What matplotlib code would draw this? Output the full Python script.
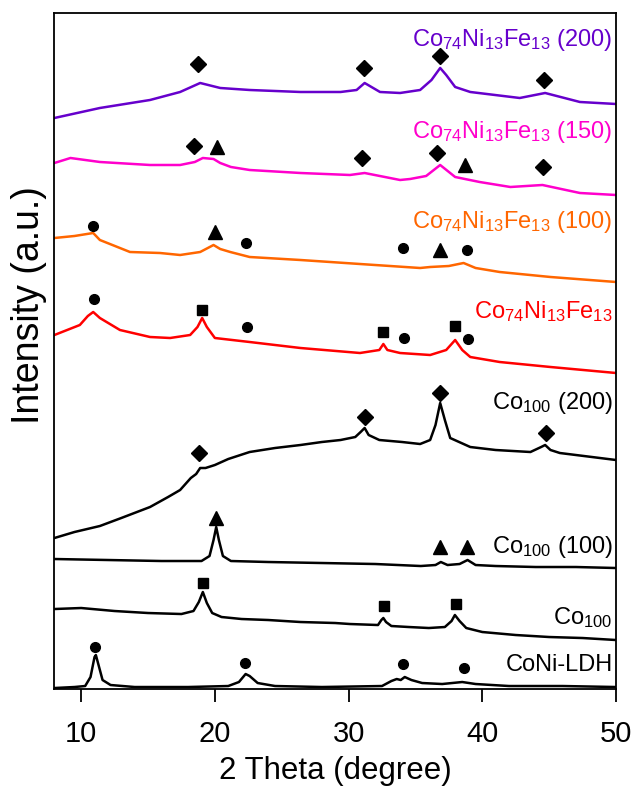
import matplotlib
matplotlib.use('Agg')
import matplotlib.pyplot as plt

plt.rcParams['font.family'] = ['Liberation Sans', 'DejaVu Sans']
plt.rcParams['mathtext.fontset'] = 'custom'
plt.rcParams['mathtext.rm'] = 'Liberation Sans'
plt.rcParams['mathtext.it'] = 'Liberation Sans'
plt.rcParams['mathtext.default'] = 'regular'

# CoNi-LDH
ldh_x = [8, 9.5, 10.3, 10.7, 11.0, 11.1, 11.3, 11.6, 12.2, 14, 18, 21, 21.8, 22.3, 22.6, 23.2, 24.5,
         28, 32.5, 33.2, 33.6, 33.9, 34.2, 34.7, 35.5, 37, 38.5, 39.5, 42, 46, 50]
ldh_y = [1, 2, 3, 12, 32, 34, 24, 9, 4, 2, 2, 3, 7, 15, 13, 6, 3,
         2, 3, 8, 10, 9, 12, 9, 6, 5, 7, 5, 3, 3, 2]

# Co100
co_x = [8, 10, 12.5, 15, 17.5, 18.4, 18.8, 19.1, 19.4, 19.8, 20.5, 22, 24, 26.4, 29, 30.1, 32.2, 32.45,
        32.6, 32.8, 33.2, 34.5, 36, 37.2, 37.7, 37.95, 38.3, 38.8, 40, 42.5, 45, 47.5, 50]
co_y = [80, 81, 78, 76, 75, 78, 87, 97, 86, 76, 72, 70, 69, 67, 66, 65, 64, 69,
        71, 67, 63, 62, 61, 62, 68, 74, 68, 61, 57, 54, 52, 51, 49]

# Co100 (100)
co100_x = [8, 12, 16, 19, 19.6, 19.9, 20.1, 20.3, 20.6, 21.2, 24, 28, 32, 35.4, 36.5, 36.9, 37.4,
           38.3, 38.9, 39.5, 41, 44, 47, 50]
co100_y = [130, 129, 128, 128, 133, 149, 162, 149, 133, 128, 127, 126, 125, 123, 124, 127, 124,
           125, 129, 124, 123, 122, 122, 121]

# Co100 (200)
co200_x = [8, 9.5, 11.4, 13, 15.15, 16.5, 17.4, 18.2, 18.6, 18.9, 19.3, 20, 21, 22.6, 24.5, 26.4, 28,
           29.4, 30.5, 30.9, 31.2, 31.5, 32.3, 34, 35.35, 36.1, 36.5, 36.85, 37.2, 37.6, 39.1, 41,
           43.6, 44.4, 44.7, 45.1, 45.8, 48.8, 50]
co200_y = [151, 157, 163, 171, 182, 192, 199, 211, 215, 221, 221, 224, 230, 237, 241, 244, 247,
           249, 252, 257, 261, 254, 249, 247, 245, 249, 264, 286, 269, 251, 242, 239,
           237, 242, 244, 239, 236, 231, 229]

# Co74Ni13Fe13
cnf_x = [8, 9.9, 10.5, 10.9, 11.4, 12.9, 15.15, 16.65, 18.15, 18.7, 19.05, 19.4, 20.0, 22.6, 26.4,
         30.85, 32.3, 32.6, 32.9, 33.85, 36.1, 37.3, 37.97, 38.5, 39.1, 41.3, 45.1, 50]
cnf_y = [354, 364, 373, 377, 371, 359, 352, 351, 354, 362, 371, 362, 351, 347, 341,
         336, 339, 345, 339, 336, 334, 339, 349, 339, 332, 327, 322, 316]

# Co74Ni13Fe13 (100)
cnf100_x = [8, 9.5, 10.9, 11.4, 13.65, 15.9, 17.4, 18.9, 19.9, 20.4, 21.15, 22.6, 26.4, 30.85, 35.35,
            36.1, 37.5, 38.6, 39.5, 41.3, 45.1, 50]
cnf100_y = [451, 453, 456, 449, 437, 436, 434, 437, 444, 440, 437, 432, 429, 425, 421,
            422, 423, 426, 421, 417, 412, 407]

# Co74Ni13Fe13 (150)
cnf150_x = [8, 9.2, 11.4, 15.15, 17.4, 18.5, 19.1, 19.9, 20.4, 21.2, 22.6, 26.4, 30.1, 31.2, 33.85,
            34.6, 35.8, 36.85, 37.97, 39.8, 42.1, 44.5, 47.3, 50]
cnf150_y = [526, 531, 527, 524, 524, 527, 531, 530, 526, 522, 519, 516, 514, 516, 509,
            510, 513, 524, 512, 507, 502, 504, 496, 494]

# Co74Ni13Fe13 (200)
cnf200_x = [8, 11.4, 15.15, 17.4, 18.9, 20.4, 22.6, 26.4, 29.4, 30.6, 31.2, 32.35, 33.85, 35.35, 36.2,
            36.85, 37.3, 37.97, 39.1, 42.8, 44.7, 47.3, 50]
cnf200_y = [571, 581, 589, 597, 606, 601, 599, 597, 597, 599, 606, 597, 596, 599, 609,
            621, 614, 602, 597, 591, 596, 587, 585]

# marcadores de fase
diamante_x = [18.75, 31.15, 36.8, 44.65, 18.45, 31.0, 36.6, 44.55, 18.8, 31.2, 36.85, 44.75]
diamante_y = [625, 621, 633, 609, 543, 531, 536, 522, 236, 272, 296, 256]
triangulo_x = [20.15, 38.7, 20.0, 36.85, 20.1, 36.85, 38.85]
triangulo_y = [542, 524, 457, 439, 171, 142, 142]
circulo_x = [10.9, 22.3, 34.05, 38.85, 10.95, 22.4, 34.15, 38.9, 11.05, 22.25, 34.05, 38.6]
circulo_y = [463, 446, 441, 439, 390, 362, 351, 350, 42, 26, 25, 21]
quadrado_x = [19.05, 32.6, 37.95, 19.1, 32.65, 38.0]
quadrado_y = [379, 357, 363, 106, 83, 85]

curvas = [
    (ldh_x, ldh_y, 'black', 'CoNi-LDH', 24),
    (co_x, co_y, 'black', 'Co$_{100}$', 71),
    (co100_x, co100_y, 'black', 'Co$_{100}$ (100)', 142),
    (co200_x, co200_y, 'black', 'Co$_{100}$ (200)', 286),
    (cnf_x, cnf_y, '#ff0000', 'Co$_{74}$Ni$_{13}$Fe$_{13}$', 377),
    (cnf100_x, cnf100_y, '#ff6600', 'Co$_{74}$Ni$_{13}$Fe$_{13}$ (100)', 467),
    (cnf150_x, cnf150_y, '#ff00cc', 'Co$_{74}$Ni$_{13}$Fe$_{13}$ (150)', 557),
    (cnf200_x, cnf200_y, '#6600cc', 'Co$_{74}$Ni$_{13}$Fe$_{13}$ (200)', 649),
]

fig = plt.figure(figsize=(6.35, 7.87), dpi=100)
ax = fig.add_axes([0.0857, 0.1245, 0.8844, 0.859])

for x, y, cor, nome, y_texto in curvas:
    ax.plot(x, y, color=cor, linewidth=1.8)
    ax.text(49.75, y_texto, nome, color=cor, fontsize=17, ha='right', va='center')

ax.plot(diamante_x, diamante_y, 'D', color='black', markersize=8.5, linestyle='none')
ax.plot(triangulo_x, triangulo_y, '^', color='black', markersize=10, linestyle='none')
ax.plot(circulo_x, circulo_y, 'o', color='black', markersize=7, linestyle='none')
ax.plot(quadrado_x, quadrado_y, 's', color='black', markersize=7, linestyle='none')

ax.set_xlim(8, 50)
ax.set_ylim(0, 676)
ax.set_xticks([10, 20, 30, 40, 50])
ax.set_yticks([])
ax.tick_params(axis='x', direction='out', length=9, width=1.3, labelsize=21, pad=13)
for s in ax.spines.values():
    s.set_linewidth(1.3)

ax.set_xlabel('2 Theta (degree)', fontsize=22.5, labelpad=6)
ax.set_ylabel('Intensity (a.u.)', fontsize=27)
ax.yaxis.set_label_coords(-0.013, 0.568)

fig.savefig('out.png', dpi=100)
